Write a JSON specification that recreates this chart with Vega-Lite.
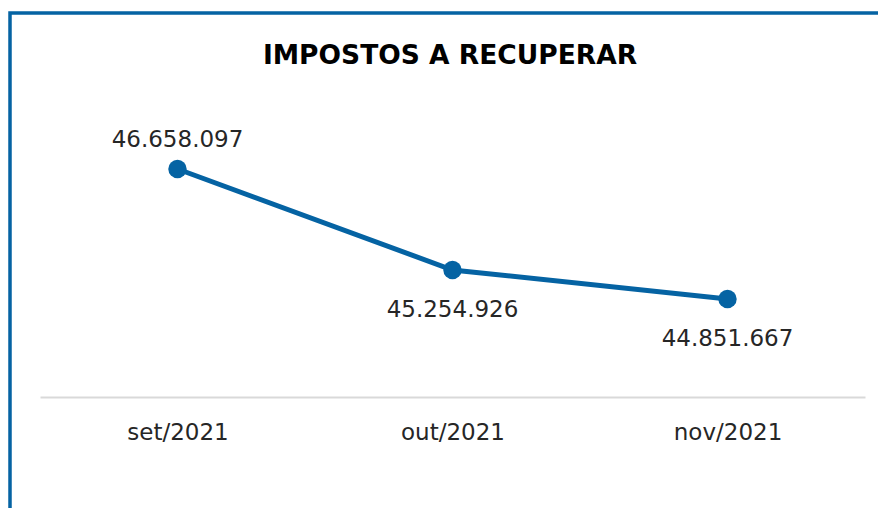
{
  "$schema": "https://vega.github.io/schema/vega-lite/v6.json",
  "autosize": {"type": "none"},
  "padding": {"left": 10, "top": 13, "right": 0, "bottom": 0},
  "width": 880,
  "height": 500,
  "background": "white",
  "title": {
    "text": "IMPOSTOS A RECUPERAR",
    "fontSize": 26.5,
    "fontWeight": "bold",
    "font": "DejaVu Sans",
    "color": "#000000",
    "anchor": "middle",
    "baseline": "alphabetic",
    "offset": -77
  },
  "data": {
    "values": [
      {"mes": "set/2021", "valor": 46658097},
      {"mes": "out/2021", "valor": 45254926},
      {"mes": "nov/2021", "valor": 44851667}
    ]
  },
  "encoding": {
    "x": {
      "field": "mes",
      "type": "ordinal",
      "sort": null,
      "scale": {"type": "point", "range": [30, 855], "padding": 0.5},
      "axis": {
        "title": null,
        "orient": "bottom",
        "offset": -116,
        "domainColor": "#d9d9d9",
        "domainWidth": 2,
        "ticks": false,
        "grid": false,
        "labelFont": "DejaVu Sans",
        "labelFontSize": 23,
        "labelColor": "#262626",
        "labelPadding": 24,
        "labelAngle": 0
      }
    },
    "y": {
      "field": "valor",
      "type": "quantitative",
      "scale": {"domain": [41879000, 48825400], "zero": false, "nice": false},
      "axis": null
    }
  },
  "layer": [
    {
      "mark": {"type": "line", "color": "#0563a3", "strokeWidth": 5}
    },
    {
      "mark": {"type": "point", "filled": true, "shape": "circle", "size": 340, "color": "#0563a3", "opacity": 1}
    },
    {
      "transform": [{"filter": "datum.mes === 'set/2021'"}],
      "mark": {"type": "text", "font": "DejaVu Sans", "fontSize": 23, "color": "#262626", "baseline": "middle", "dy": -29},
      "encoding": {"text": {"field": "valor", "type": "quantitative", "format": ",.0f"}}
    },
    {
      "transform": [{"filter": "datum.mes !== 'set/2021'"}],
      "mark": {"type": "text", "font": "DejaVu Sans", "fontSize": 23, "color": "#262626", "baseline": "middle", "dy": 40},
      "encoding": {"text": {"field": "valor", "type": "quantitative", "format": ",.0f"}}
    }
  ],
  "config": {
    "locale": {
      "number": {"decimal": ",", "thousands": ".", "grouping": [3], "currency": ["R$ ", ""]}
    },
    "view": {"stroke": "#0563a3", "strokeWidth": 3.5}
  }
}
